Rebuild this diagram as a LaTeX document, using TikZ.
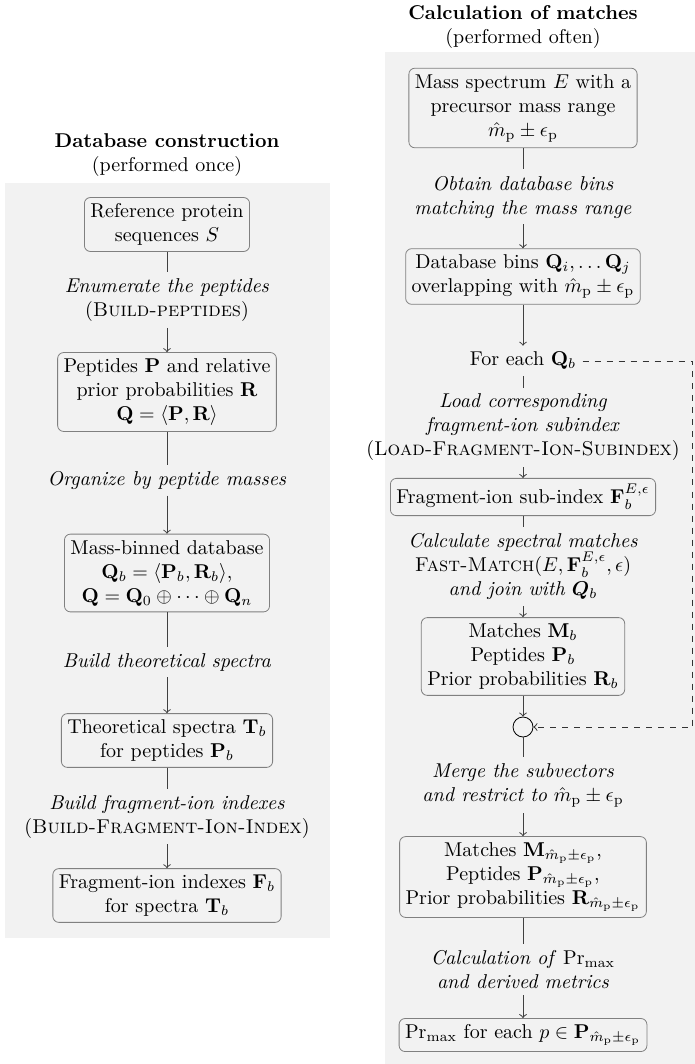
\documentclass[tikz,border=0pt]{standalone}
\usepackage{amsmath,amssymb,bm}
\begin{document}
\begin{tikzpicture}[x=0.5pt,y=-0.5pt,
  box/.style={draw=black!50, rounded corners=3pt, align=center, inner sep=3pt, fill=gray!10},
  lab/.style={align=center, inner sep=3pt},
  conn/.style={draw=black!75, line width=0.5pt},
  arr/.style={conn,->},
  dashconn/.style={draw=black!80, dashed, line width=0.5pt, ->}]
\useasboundingbox (0,0) rectangle (695,1064);
\fill[gray!10] (5,183) rectangle (330,938);
\fill[gray!10] (385,52) rectangle (695,1064);
\newcommand{\mrange}{\hat{m}_{\mathrm{p}}\pm\epsilon_{\mathrm{p}}}
% left column
\node[lab] (tleft) at (167,155) {\textbf{Database construction}\\(performed once)};
\node[box] (ref) at (167,224.5) {Reference protein\\sequences $S$};
\node[lab] (l1) at (167,300) {\textit{Enumerate the peptides}\\(\textsc{Build-peptides})};
\node[box] (pep) at (167,392) {Peptides $\mathbf{P}$ and relative\\prior probabilities $\mathbf{R}$\\$\mathbf{Q}=\langle\mathbf{P},\mathbf{R}\rangle$};
\node[lab] (l2) at (167,480) {\textit{Organize by peptide masses}};
\node[box] (mass) at (167,573) {Mass-binned database\\$\mathbf{Q}_b=\langle\mathbf{P}_b,\mathbf{R}_b\rangle$,\\$\mathbf{Q}=\mathbf{Q}_0\oplus\cdots\oplus\mathbf{Q}_n$};
\node[lab] (l3) at (167,662) {\textit{Build theoretical spectra}};
\node[box] (theo) at (167,740.5) {Theoretical spectra $\mathbf{T}_b$\\for peptides $\mathbf{P}_b$};
\node[lab] (l4) at (167,816.5) {\textit{Build fragment-ion indexes}\\(\textsc{Build-Fragment-Ion-Index})};
\node[box] (fidx) at (167,895.5) {Fragment-ion indexes $\mathbf{F}_b$\\for spectra $\mathbf{T}_b$};
\draw[conn] (ref.south) -- (l1.north);
\draw[arr] (l1.south) -- (pep.north);
\draw[conn] (pep.south) -- (l2.north);
\draw[arr] (l2.south) -- (mass.north);
\draw[conn] (mass.south) -- (l3.north);
\draw[arr] (l3.south) -- (theo.north);
\draw[conn] (theo.south) -- (l4.north);
\draw[arr] (l4.south) -- (fidx.north);
% right column
\node[lab] (tright) at (523,27) {\textbf{Calculation of matches}\\(performed often)};
\node[box] (spec) at (523,108) {Mass spectrum $E$ with a\\precursor mass range\\$\mrange$};
\node[lab] (r1) at (523,197) {\textit{Obtain database bins}\\\textit{matching the mass range}};
\node[box] (bins) at (523,276.5) {Database bins $\mathbf{Q}_i,\ldots\mathbf{Q}_j$\\overlapping with $\mrange$};
\node[lab] (foreach) at (523,361) {For each $\mathbf{Q}_b$};
\node[lab] (r2) at (523,427.5) {\textit{Load corresponding}\\\textit{fragment-ion subindex}\\(\textsc{Load-Fragment-Ion-Subindex})};
\node[box] (fsub) at (523,497) {Fragment-ion sub-index $\mathbf{F}_b^{E,\epsilon}$};
\node[lab] (r3) at (523,566.5) {\textit{Calculate spectral matches}\\\textsc{Fast-Match}$(E,\mathbf{F}_b^{E,\epsilon},\epsilon)$\\\textit{and join with} $\bm{Q}_b$};
\node[box] (match) at (523,656.5) {Matches $\mathbf{M}_b$\\Peptides $\mathbf{P}_b$\\Prior probabilities $\mathbf{R}_b$};
\node[draw=black, circle, minimum size=10pt, inner sep=0pt] (join) at (523,727) {};
\node[lab] (r4) at (523,785) {\textit{Merge the subvectors}\\\textit{and restrict to} $\mrange$};
\node[box] (mres) at (523,877) {Matches $\mathbf{M}_{\mrange}$,\\Peptides $\mathbf{P}_{\mrange}$,\\Prior probabilities $\mathbf{R}_{\mrange}$};
\node[lab] (r5) at (523,969.5) {\textit{Calculation of} $\mathrm{Pr}_{\max}$\\\textit{and derived metrics}};
\node[box] (final) at (523,1035) {$\mathrm{Pr}_{\max}$ for each $p\in\mathbf{P}_{\mrange}$};
\coordinate (dcorner) at (692,727);
\draw[conn] (spec.south) -- (r1.north);
\draw[arr] (r1.south) -- (bins.north);
\draw[arr] (bins.south) -- (foreach.north);
\draw[conn] (foreach.south) -- (r2.north);
\draw[arr] (r2.south) -- (fsub.north);
\draw[conn] (fsub.south) -- (r3.north);
\draw[arr] (r3.south) -- (match.north);
\draw[arr] (match.south) -- (join.north);
\draw[conn] (join.south) -- (r4.north);
\draw[arr] (r4.south) -- (mres.north);
\draw[conn] (mres.south) -- (r5.north);
\draw[arr] (r5.south) -- (final.north);
\draw[dashconn] (foreach.east) -| (dcorner) -- (join.east);
\end{tikzpicture}
\end{document}
